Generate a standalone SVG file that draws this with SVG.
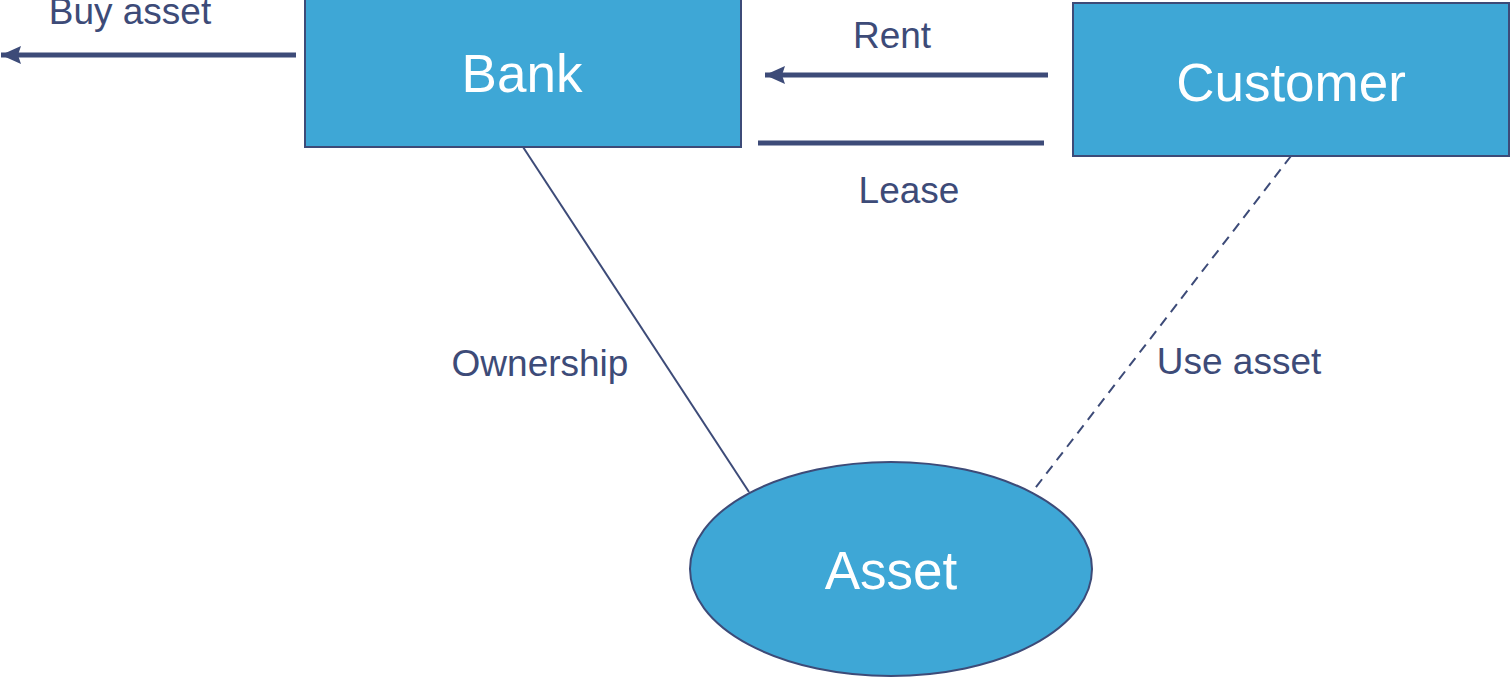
<svg xmlns="http://www.w3.org/2000/svg" width="1510" height="678" viewBox="0 0 1510 678">
<style>
.node{fill:#3EA7D6;stroke:#3D4B78;stroke-width:2}
.nt{font-family:"Liberation Sans",Arial,sans-serif;font-size:53px;fill:#fff;text-anchor:middle}
.lbl{font-family:"Liberation Sans",Arial,sans-serif;font-size:37px;fill:#3D4B78;text-anchor:middle}
.thick{stroke:#3D4B78;stroke-width:5;fill:none}
.thin{stroke:#3D4B78;stroke-width:2;fill:none}
</style>
<defs>
<marker id="ah" markerUnits="userSpaceOnUse" markerWidth="22" markerHeight="20" refX="20" refY="10" orient="auto" viewBox="0 0 22 20">
<path d="M20,10 L0,1 L3,10 L0,19 Z" fill="#3D4B78"/>
</marker>
</defs>
<g id="connectors">
<line class="thick" x1="296" y1="55" x2="1" y2="55" marker-end="url(#ah)"/>
<line class="thick" x1="1048" y1="75" x2="765" y2="75" marker-end="url(#ah)"/>
<line class="thick" x1="758" y1="143" x2="1044" y2="143"/>
<line class="thin" x1="523" y1="147" x2="749" y2="492"/>
<line class="thin" x1="1291" y1="156" x2="1033" y2="491" stroke-dasharray="10,7"/>
</g>
<g id="bank">
<rect class="node" x="305" y="-2" width="436" height="149"/>
<text class="nt" x="522" y="92">Bank</text>
</g>
<g id="customer">
<rect class="node" x="1073" y="3" width="436" height="153"/>
<text class="nt" x="1291" y="101">Customer</text>
</g>
<g id="asset">
<ellipse class="node" cx="891" cy="569" rx="201" ry="107"/>
<text class="nt" x="891" y="589">Asset</text>
</g>
<g id="labels">
<text class="lbl" x="130" y="24">Buy asset</text>
<text class="lbl" x="892" y="48">Rent</text>
<text class="lbl" x="909" y="203">Lease</text>
<text class="lbl" x="540" y="376">Ownership</text>
<text class="lbl" x="1239" y="374">Use asset</text>
</g>
</svg>
